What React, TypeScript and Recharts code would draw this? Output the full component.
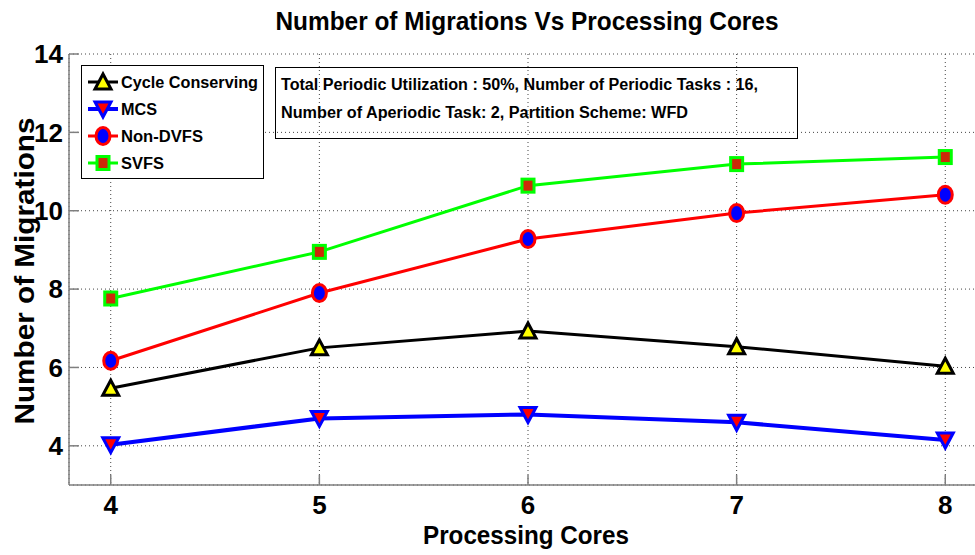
import React from 'react';
import { LineChart, Line, XAxis, YAxis, CartesianGrid, Legend } from 'recharts';

// migrations per core count, one array per scheduling scheme
const cores = [4, 5, 6, 7, 8];
const cycleConserving = [5.47, 6.5, 6.93, 6.53, 6.03];
const mcs = [4.03, 4.7, 4.8, 4.6, 4.15];
const nonDvfs = [6.17, 7.9, 9.28, 9.94, 10.41];
const svfs = [7.76, 8.95, 10.64, 11.19, 11.37];

const xTicks = [4, 5, 6, 7, 8];
const yTicks = [4, 6, 8, 10, 12, 14];

const titleText = 'Number of Migrations Vs Processing Cores';
const xTitle = 'Processing Cores';
const yTitle = 'Number of Migrations';
const noteLines = [
  'Total Periodic Utilization : 50%, Number of Periodic Tasks : 16,',
  'Number of Aperiodic Task: 2, Partition Scheme: WFD',
];

const data = cores.map((c, i) => ({
  cores: c,
  cycleConserving: cycleConserving[i],
  mcs: mcs[i],
  nonDvfs: nonDvfs[i],
  svfs: svfs[i],
}));

type MarkerKind = 'triUp' | 'triDown' | 'circle' | 'square';

const series: { key: string; name: string; color: string; width: number; marker: MarkerKind; fill: string; labelWidth: number }[] = [
  { key: 'cycleConserving', name: 'Cycle Conserving', color: '#000000', width: 3, marker: 'triUp', fill: '#ffff00', labelWidth: 137 },
  { key: 'mcs', name: 'MCS', color: '#0000ff', width: 4, marker: 'triDown', fill: '#ff0000', labelWidth: 36 },
  { key: 'nonDvfs', name: 'Non-DVFS', color: '#ff0000', width: 3, marker: 'circle', fill: '#0000ff', labelWidth: 82 },
  { key: 'svfs', name: 'SVFS', color: '#00ff00', width: 3, marker: 'square', fill: '#cc2a08', labelWidth: 43 },
];

const FONT = '"Liberation Sans", Arial, Helvetica, sans-serif';

const Marker = ({ kind, cx, cy, stroke, fill }: { kind: MarkerKind; cx: number; cy: number; stroke: string; fill: string }) => {
  switch (kind) {
    case 'triUp':
      return <polygon points={`${cx},${cy - 8} ${cx - 8},${cy + 7} ${cx + 8},${cy + 7}`} fill={fill} stroke={stroke} strokeWidth={3} strokeLinejoin="miter" />;
    case 'triDown':
      return <polygon points={`${cx},${cy + 8} ${cx - 8},${cy - 7} ${cx + 8},${cy - 7}`} fill={fill} stroke={stroke} strokeWidth={3} strokeLinejoin="miter" />;
    case 'circle':
      return <ellipse cx={cx} cy={cy} rx={7} ry={8.5} fill={fill} stroke={stroke} strokeWidth={3} />;
    default:
      return <rect x={cx - 6} y={cy - 6.5} width={12} height={13} fill={fill} stroke={stroke} strokeWidth={3} />;
  }
};

const LegendBox = () => (
  <svg width={183} height={114} style={{ display: 'block', overflow: 'visible' }}>
    <rect x={0.5} y={0.5} width={182} height={113} fill="#fff" stroke="#000" strokeWidth={1} />
    {series.map((s, i) => {
      const y = 17 + i * 27;
      return (
        <g key={s.key}>
          <line x1={7} x2={37} y1={y} y2={y} stroke={s.color} strokeWidth={s.width} />
          <Marker kind={s.marker} cx={22} cy={y} stroke={s.color} fill={s.fill} />
          <text
            x={40}
            y={y + 6}
            fontFamily={FONT}
            fontWeight="bold"
            fontSize={16}
            fill="#000"
            textLength={s.labelWidth}
            lengthAdjust="spacingAndGlyphs"
          >
            {s.name}
          </text>
        </g>
      );
    })}
  </svg>
);

const tickStyle = { fill: '#000', fontSize: 26, fontWeight: 'bold' as const, fontFamily: FONT };

export default function App() {
  return (
    <div style={{ position: 'absolute', left: 0, top: 0, width: 975, height: 555, overflow: 'hidden', background: '#fff' }}>
      <LineChart width={1000} height={555} data={data} margin={{ top: 54, right: 13, bottom: 0, left: 0 }}>
        <CartesianGrid stroke="#444" strokeDasharray="1 3" strokeWidth={1} />
        <XAxis
          dataKey="cores"
          type="number"
          domain={[3.8, 8.2]}
          ticks={xTicks}
          height={70}
          axisLine={{ stroke: '#7f7f7f', strokeWidth: 1.5 }}
          tickLine={{ stroke: '#7f7f7f', strokeWidth: 1.5 }}
          tickSize={-10}
          tickMargin={21}
          tick={tickStyle}
          allowDataOverflow
        />
        <XAxis
          xAxisId="top"
          orientation="top"
          dataKey="cores"
          type="number"
          domain={[3.8, 8.2]}
          ticks={xTicks}
          height={0}
          axisLine={{ stroke: '#7f7f7f', strokeWidth: 1.5 }}
          tickLine={{ stroke: '#7f7f7f', strokeWidth: 1.5 }}
          tickSize={-10}
          tick={false}
          allowDataOverflow
        />
        <YAxis
          type="number"
          domain={[3, 14]}
          ticks={yTicks}
          width={69}
          axisLine={{ stroke: '#7f7f7f', strokeWidth: 1.5 }}
          tickLine={{ stroke: '#7f7f7f', strokeWidth: 1.5 }}
          tickSize={-10}
          tickMargin={16}
          tick={tickStyle}
          allowDataOverflow
        />
        <Legend
          layout="vertical"
          align="center"
          verticalAlign="middle"
          wrapperStyle={{ position: 'absolute', left: 81, top: 65, width: 183, height: 114 }}
          content={() => <LegendBox />}
        />
        {series.map((s) => (
          <Line
            key={s.key}
            dataKey={s.key}
            name={s.name}
            type="linear"
            stroke={s.color}
            strokeWidth={s.width}
            isAnimationActive={false}
            dot={(p: any) => (
              <Marker key={`${s.key}-${p.index}`} kind={s.marker} cx={p.cx} cy={p.cy} stroke={s.color} fill={s.fill} />
            )}
            activeDot={false}
          />
        ))}
      </LineChart>
      <svg width={975} height={555} style={{ position: 'absolute', left: 0, top: 0, pointerEvents: 'none' }}>
        <text x={527} y={30} textAnchor="middle" fontFamily={FONT} fontWeight="bold" fontSize={25} textLength={503} lengthAdjust="spacingAndGlyphs">
          {titleText}
        </text>
        <text x={526} y={544} textAnchor="middle" fontFamily={FONT} fontWeight="bold" fontSize={26} textLength={206} lengthAdjust="spacingAndGlyphs">
          {xTitle}
        </text>
        <text
          transform="translate(34 271) rotate(-90)"
          textAnchor="middle"
          fontFamily={FONT}
          fontWeight="bold"
          fontSize={27}
          textLength={307}
          lengthAdjust="spacingAndGlyphs"
        >
          {yTitle}
        </text>
        <rect x={275.5} y={67.5} width={522} height={71} fill="none" stroke="#000" strokeWidth={1} />
        <text x={281} y={90} fontFamily={FONT} fontWeight="bold" fontSize={16} textLength={477} lengthAdjust="spacingAndGlyphs">
          {noteLines[0]}
        </text>
        <text x={281} y={118} fontFamily={FONT} fontWeight="bold" fontSize={16} textLength={407} lengthAdjust="spacingAndGlyphs">
          {noteLines[1]}
        </text>
      </svg>
    </div>
  );
}
